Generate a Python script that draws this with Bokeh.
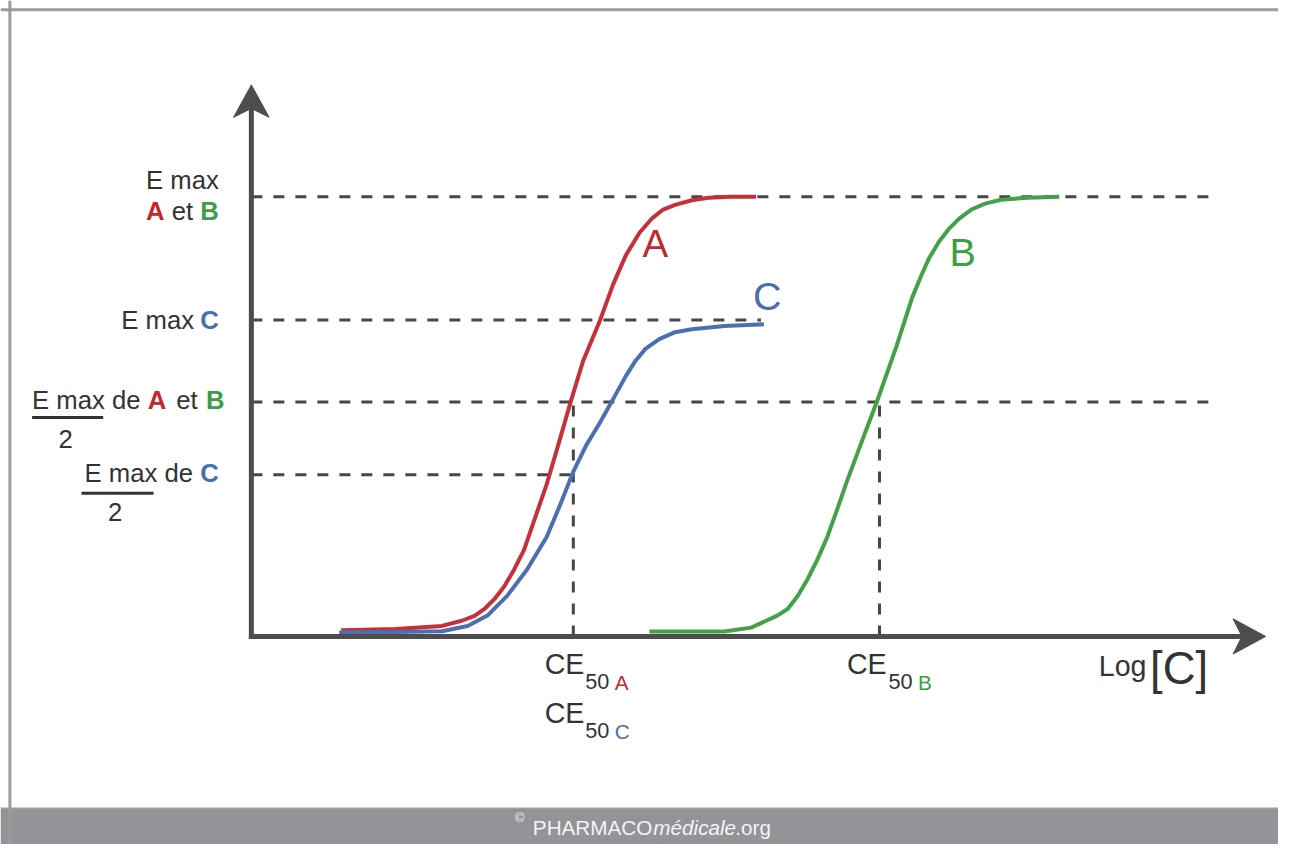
from bokeh.plotting import figure
from bokeh.models import Range1d, Span, BoxAnnotation
from bokeh.core.properties import value
from bokeh.embed import file_html
from bokeh.resources import INLINE

# ---------------- data (log concentration, effect in % of Emax A/B) ----------------
log_c_A = [0.91, 1.46, 1.93, 2.13, 2.26, 2.36, 2.46, 2.56, 2.66, 2.76, 2.87, 2.99, 3.11, 3.23,
           3.36, 3.53, 3.66, 3.79, 3.93, 4.06, 4.17, 4.29, 4.46, 4.63, 4.86, 5.11]
effect_A = [1.41, 1.72, 2.39, 3.57, 4.69, 6.25, 8.48, 11.38, 15.18, 19.64, 26.79, 34.60, 43.75, 53.13,
            62.72, 71.88, 79.91, 86.61, 91.81, 95.16, 97.10, 98.15, 99.22, 99.78, 100.0, 100.0]

log_c_C = [0.89, 1.46, 1.93, 2.19, 2.39, 2.59, 2.79, 2.99, 3.13, 3.26, 3.39, 3.53, 3.66, 3.79,
           3.89, 3.99, 4.13, 4.29, 4.46, 4.79, 5.19]
effect_C = [0.89, 1.00, 1.18, 2.39, 4.75, 9.22, 15.18, 22.61, 30.13, 37.50, 43.46, 48.66, 53.86, 59.15,
            62.72, 65.40, 67.63, 69.20, 69.87, 70.60, 70.98]

log_c_B = [4.03, 4.79, 5.06, 5.19, 5.32, 5.43, 5.53, 5.63, 5.73, 5.83, 5.93, 6.03, 6.19, 6.34,
           6.53, 6.69, 6.78, 6.86, 6.96, 7.06, 7.17, 7.29, 7.43, 7.59, 7.86, 8.18]
effect_B = [1.12, 1.12, 2.01, 3.35, 4.69, 6.25, 9.15, 12.95, 17.41, 22.54, 28.79, 35.27, 44.87, 53.79,
            65.85, 77.01, 81.92, 85.94, 89.73, 92.63, 95.09, 97.10, 98.44, 99.33, 99.78, 100.0]

emax_AB = 100.0
emax_C = 72.0
half_AB = 53.3
half_C = 36.8
ce50_A = 3.26
ce50_B = 6.36

# ---------------- layout helpers ----------------
W, H = 1278, 844
REF_W, REF_H = 1294, 860
S = W / REF_W                 # font scale
X0, Y0 = 254, 648             # reference pixel of the axes origin
PX_X, PX_Y = 100.0, 4.48      # reference pixels per data unit
K_BASE = 0.4                  # svg text baseline compensation (em)


def dx(X):
    return (X - X0) / PX_X


def dy(Y):
    return (Y0 - Y) / PX_Y


RED, GREEN, BLUE = "#c5303a", "#44a148", "#4b6fb0"
RED_T, GREEN_T, BLUE_T = "#c1272d", "#3f9e43", "#4a6eae"
DARK = "#333333"
AXC = "#4d4d4d"
DASHC = "#474747"
FONT = "Liberation Sans"

p = figure(width=W, height=H, x_range=Range1d(dx(0), dx(REF_W)), y_range=Range1d(dy(REF_H), dy(0)),
           x_axis_type=None, y_axis_type=None, output_backend="svg", toolbar_location=None,
           min_border=0, outline_line_color=None, background_fill_color="white",
           border_fill_color="white")
p.grid.visible = False

# frame and footer band
p.add_layout(BoxAnnotation(top=dy(822), fill_color="#949398", fill_alpha=1.0, line_alpha=0,
                           level="underlay"))
p.add_layout(Span(location=dy(822.5), dimension="width", line_color="#d6d6d8", line_width=1,
                  level="underlay"))
p.add_layout(Span(location=dy(9.5), dimension="width", line_color="#9c9c9c", line_width=3,
                  level="underlay"))
p.add_layout(Span(location=dx(9.5), dimension="height", line_color="#9c9c9c", line_width=3,
                  level="underlay"))

# dashed reference lines
dash = dict(line_color=DASHC, line_width=3, line_dash="11 11")
x_far = dx(1226)
x_c_end = dx(770)
p.line([0, x_far], [emax_AB, emax_AB], **dash)
p.line([0, x_c_end], [emax_C, emax_C], **dash)
p.line([0, x_far], [half_AB, half_AB], **dash)
p.line([0, ce50_A], [half_C, half_C], **dash)
p.line([ce50_A, ce50_A], [0, half_AB], **dash)
p.line([ce50_B, ce50_B], [0, half_AB], **dash)

# curves
p.line(log_c_A, effect_A, line_color=RED, line_width=4, line_join="round")
p.line(log_c_C, effect_C, line_color=BLUE, line_width=4, line_join="round")
p.line(log_c_B, effect_B, line_color=GREEN, line_width=4, line_join="round")

# axes: shafts and concave arrow heads
X_TIP, Y_TIP = 1281, 86       # reference pixels of the arrow tips
HEAD_L, HEAD_W, NOTCH = 33, 18, 24
p.line([dx(251.5), dx(X_TIP - NOTCH + 2)], [0, 0], line_color=AXC, line_width=5)
p.line([0, 0], [dy(650.5), dy(Y_TIP + NOTCH - 2)], line_color=AXC, line_width=5)
p.patch([dx(X_TIP), dx(X_TIP - HEAD_L), dx(X_TIP - NOTCH), dx(X_TIP - HEAD_L)],
        [0, dy(Y0 - HEAD_W), 0, dy(Y0 + HEAD_W)], fill_color=AXC, line_color=AXC, line_width=1)
p.patch([0, dx(X0 - HEAD_W), 0, dx(X0 + HEAD_W)],
        [dy(Y_TIP), dy(Y_TIP + HEAD_L), dy(Y_TIP + NOTCH), dy(Y_TIP + HEAD_L)],
        fill_color=AXC, line_color=AXC, line_width=1)


def label(X, Y, txt, color=DARK, size=26, align="left", style="normal"):
    p.text(x=[dx(X)], y=[dy(Y - K_BASE * size)], text=[txt], text_color=color,
           text_font_size=f"{size * S:.1f}px", text_align=align, text_baseline="alphabetic",
           text_font=value(FONT), text_font_style=style)


# curve names
label(650, 263, "A", RED_T, 39)
label(762, 317, "C", BLUE_T, 40)
label(961, 272, "B", GREEN_T, 40)

# y labels
label(221, 193, "E max", align="right")
label(221, 225, "B", GREEN_T, align="right", style="bold")
label(195, 225, "et", align="right")
label(166, 225, "A", RED_T, align="right", style="bold")

label(221, 336, "C", BLUE_T, align="right", style="bold")
label(196, 336, "E max", align="right")

label(32, 417, "E max de")
label(149, 417, "A", RED_T, style="bold")
label(178, 417, "et")
label(208, 417, "B", GREEN_T, style="bold")
p.segment(x0=[dx(32)], y0=[dy(425)], x1=[dx(104)], y1=[dy(425)], line_color=DARK, line_width=3)
label(66, 457, "2", align="center")

label(221, 492, "C", BLUE_T, align="right", style="bold")
label(195, 492, "E max de", align="right")
p.segment(x0=[dx(82)], y0=[dy(502)], x1=[dx(155)], y1=[dy(502)], line_color=DARK, line_width=3)
label(116, 532, "2", align="center")

# x labels
label(551, 688, "CE", size=29)
label(592, 703, "50", size=22)
label(622, 703, "A", RED_T, size=21)
label(551, 738, "CE", size=29)
label(592, 753, "50", size=22)
label(622, 753, "C", BLUE_T, size=21)
label(857, 688, "CE", size=29)
label(899, 703, "50", size=22)
label(929, 703, "B", GREEN_T, size=21)

label(1112, 690, "Log", size=29)
label(1164, 699, "[C]", size=46)

# footer
label(521, 838, "©", "#f4f4f4", size=13)
label(539, 851, "PHARMACO", "#f4f4f4", size=21)
label(661, 851, "médicale", "#f4f4f4", size=21, style="italic")
label(744, 851, ".org", "#f4f4f4", size=21)

open("out.html", "w").write(file_html(p, INLINE))
